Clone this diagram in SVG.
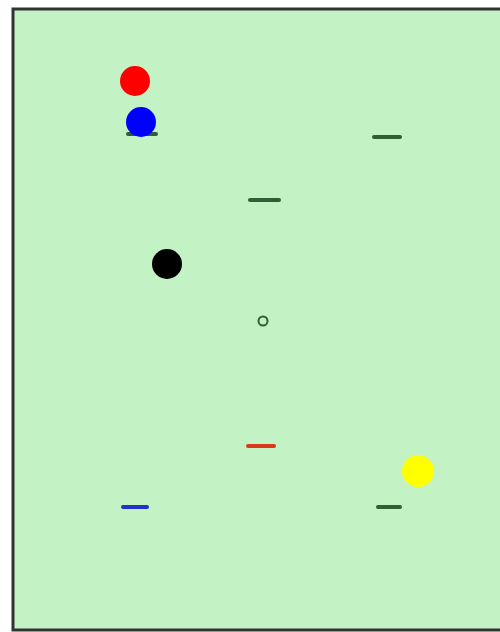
<svg xmlns="http://www.w3.org/2000/svg" width="500" height="632" viewBox="0 0 500 632">
<style>
.dash{stroke-linecap:round;stroke-width:4}
.g{stroke:#2f5f34}
</style>
<rect x="0" y="0" width="500" height="632" fill="#ffffff"/>
<rect x="13" y="9" width="500" height="621" fill="#c3f2c5" stroke="#333333" stroke-width="3"/>
<g id="scene">
<line class="dash g" x1="128" y1="134" x2="156" y2="134"/>
<circle cx="135" cy="81" r="15" fill="#ff0000"/>
<circle cx="141" cy="122" r="15" fill="#0000ff"/>
<line class="dash g" x1="374" y1="137" x2="400" y2="137"/>
<line class="dash g" x1="250" y1="200" x2="279" y2="200"/>
<circle cx="167" cy="264" r="15" fill="#000000"/>
<circle cx="263" cy="321" r="4.5" fill="none" stroke="#2f5f34" stroke-width="2"/>
<line class="dash" stroke="#d9391c" x1="248" y1="446" x2="274" y2="446"/>
<circle cx="418" cy="471" r="16" fill="#ffff00"/>
<line class="dash g" x1="378" y1="507" x2="400" y2="507"/>
<line class="dash" stroke="#2233cc" x1="123" y1="507" x2="147" y2="507"/>
</g>
</svg>
